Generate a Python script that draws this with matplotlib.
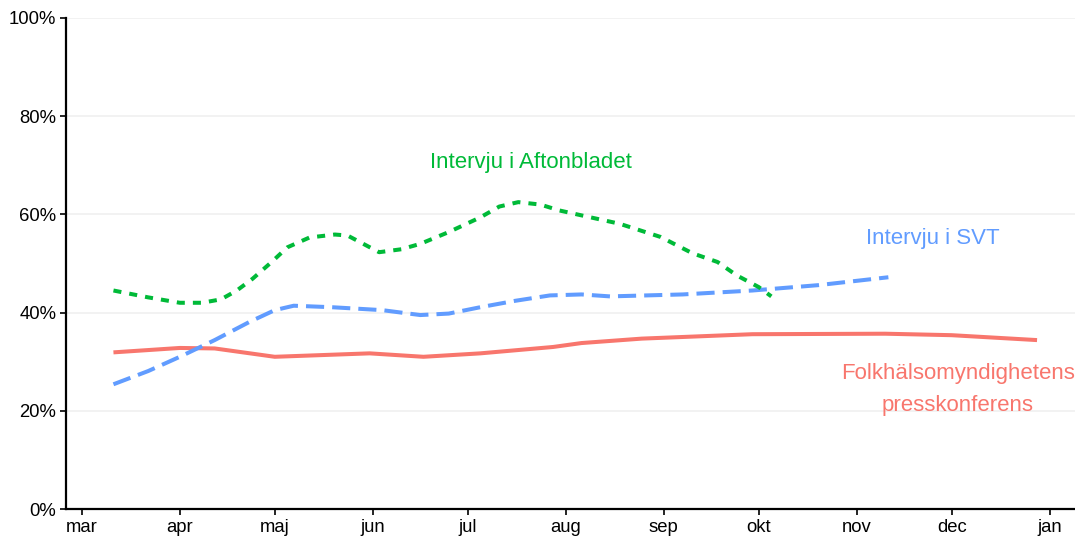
import numpy as np
import pandas as pd
import matplotlib.pyplot as plt

plt.rcParams['font.family'] = ['Liberation Sans', 'DejaVu Sans']

# share of respondents (%)
fhm_dates = ['2020-03-11', '2020-04-01', '2020-04-12', '2020-05-01', '2020-05-31',
             '2020-06-17', '2020-07-05', '2020-07-28', '2020-08-06', '2020-08-25',
             '2020-09-29', '2020-11-10', '2020-12-01', '2020-12-28']
fhm_vals = [31.9, 32.8, 32.7, 31.0, 31.7, 31.0, 31.7, 33.0, 33.8, 34.7,
            35.6, 35.7, 35.4, 34.4]

svt_dates = ['2020-03-11', '2020-03-22', '2020-04-01', '2020-04-12', '2020-04-23',
             '2020-05-01', '2020-05-07', '2020-05-19', '2020-06-04', '2020-06-16',
             '2020-06-25', '2020-07-05', '2020-07-16', '2020-07-27', '2020-08-06',
             '2020-08-15', '2020-09-07', '2020-09-29', '2020-10-20', '2020-11-11']
svt_vals = [25.4, 28.1, 31.0, 34.4, 38.1, 40.5, 41.4, 41.1, 40.5, 39.5,
            39.8, 41.1, 42.4, 43.5, 43.7, 43.3, 43.7, 44.5, 45.6, 47.2]

ab_dates = ['2020-03-11', '2020-03-22', '2020-04-01', '2020-04-08', '2020-04-14',
            '2020-04-19', '2020-04-24', '2020-04-30', '2020-05-05', '2020-05-12',
            '2020-05-20', '2020-05-24', '2020-05-29', '2020-06-03', '2020-06-10',
            '2020-06-16', '2020-06-25', '2020-07-05', '2020-07-11', '2020-07-17',
            '2020-07-24', '2020-07-30', '2020-08-06', '2020-08-18', '2020-08-31',
            '2020-09-10', '2020-09-18', '2020-09-24', '2020-10-01', '2020-10-05']
ab_vals = [44.5, 43.1, 42.0, 42.0, 42.7, 44.5, 46.9, 50.3, 53.3, 55.3,
           55.9, 55.7, 54.0, 52.3, 52.9, 54.0, 56.4, 59.4, 61.6, 62.5,
           62.0, 60.8, 59.8, 58.1, 55.4, 52.1, 50.3, 47.6, 45.2, 43.3]

month_ticks = ['2020-03-01', '2020-04-01', '2020-05-01', '2020-06-01', '2020-07-01',
               '2020-08-01', '2020-09-01', '2020-10-01', '2020-11-01', '2020-12-01',
               '2021-01-01']
month_labels = ['mar', 'apr', 'maj', 'jun', 'jul', 'aug', 'sep', 'okt', 'nov', 'dec', 'jan']

red = '#F8766D'
green = '#00BA38'
blue = '#619CFF'

fig = plt.figure(figsize=(10.75, 5.39), dpi=100)
ax = fig.add_axes([66 / 1075, 30 / 539, 1 - 66 / 1075, 491 / 539])

lw = 2.9
ax.plot(pd.to_datetime(fhm_dates), fhm_vals, color=red, lw=lw, solid_capstyle='butt')
ax.plot(pd.to_datetime(svt_dates), svt_vals, color=blue, lw=lw,
        linestyle=(0, (4.5, 2)), dash_capstyle='butt')
ax.plot(pd.to_datetime(ab_dates), ab_vals, color=green, lw=lw,
        linestyle=(0, (2, 2)), dash_capstyle='butt')

ax.set_xlim(pd.Timestamp('2020-02-25'), pd.Timestamp('2021-01-09'))
ax.set_ylim(0, 100)
ax.set_xticks(pd.to_datetime(month_ticks))
ax.set_xticklabels(month_labels)
ax.set_yticks(np.arange(0, 101, 20))
ax.set_yticklabels([f'{v}%' for v in range(0, 101, 20)])
ax.grid(axis='y', color='#f0f0f0', lw=1.2)
ax.set_axisbelow(True)

for s in ['top', 'right']:
    ax.spines[s].set_visible(False)
for s in ['left', 'bottom']:
    ax.spines[s].set_linewidth(1.6)
ax.tick_params(axis='both', length=4, width=1.2, labelsize=13.3, colors='black', pad=3)

ax.text(pd.Timestamp('2020-07-21'), 70.6, 'Intervju i Aftonbladet', color=green,
        fontsize=16, ha='center', va='center')
ax.text(pd.Timestamp('2020-11-25'), 55.1, 'Intervju i SVT', color=blue,
        fontsize=16, ha='center', va='center')
ax.text(pd.Timestamp('2020-12-03'), 24.4, 'Folkhälsomyndighetens\npresskonferens',
        color=red, fontsize=16, ha='center', va='center', linespacing=1.7)

fig.savefig('out.png', dpi=100)
